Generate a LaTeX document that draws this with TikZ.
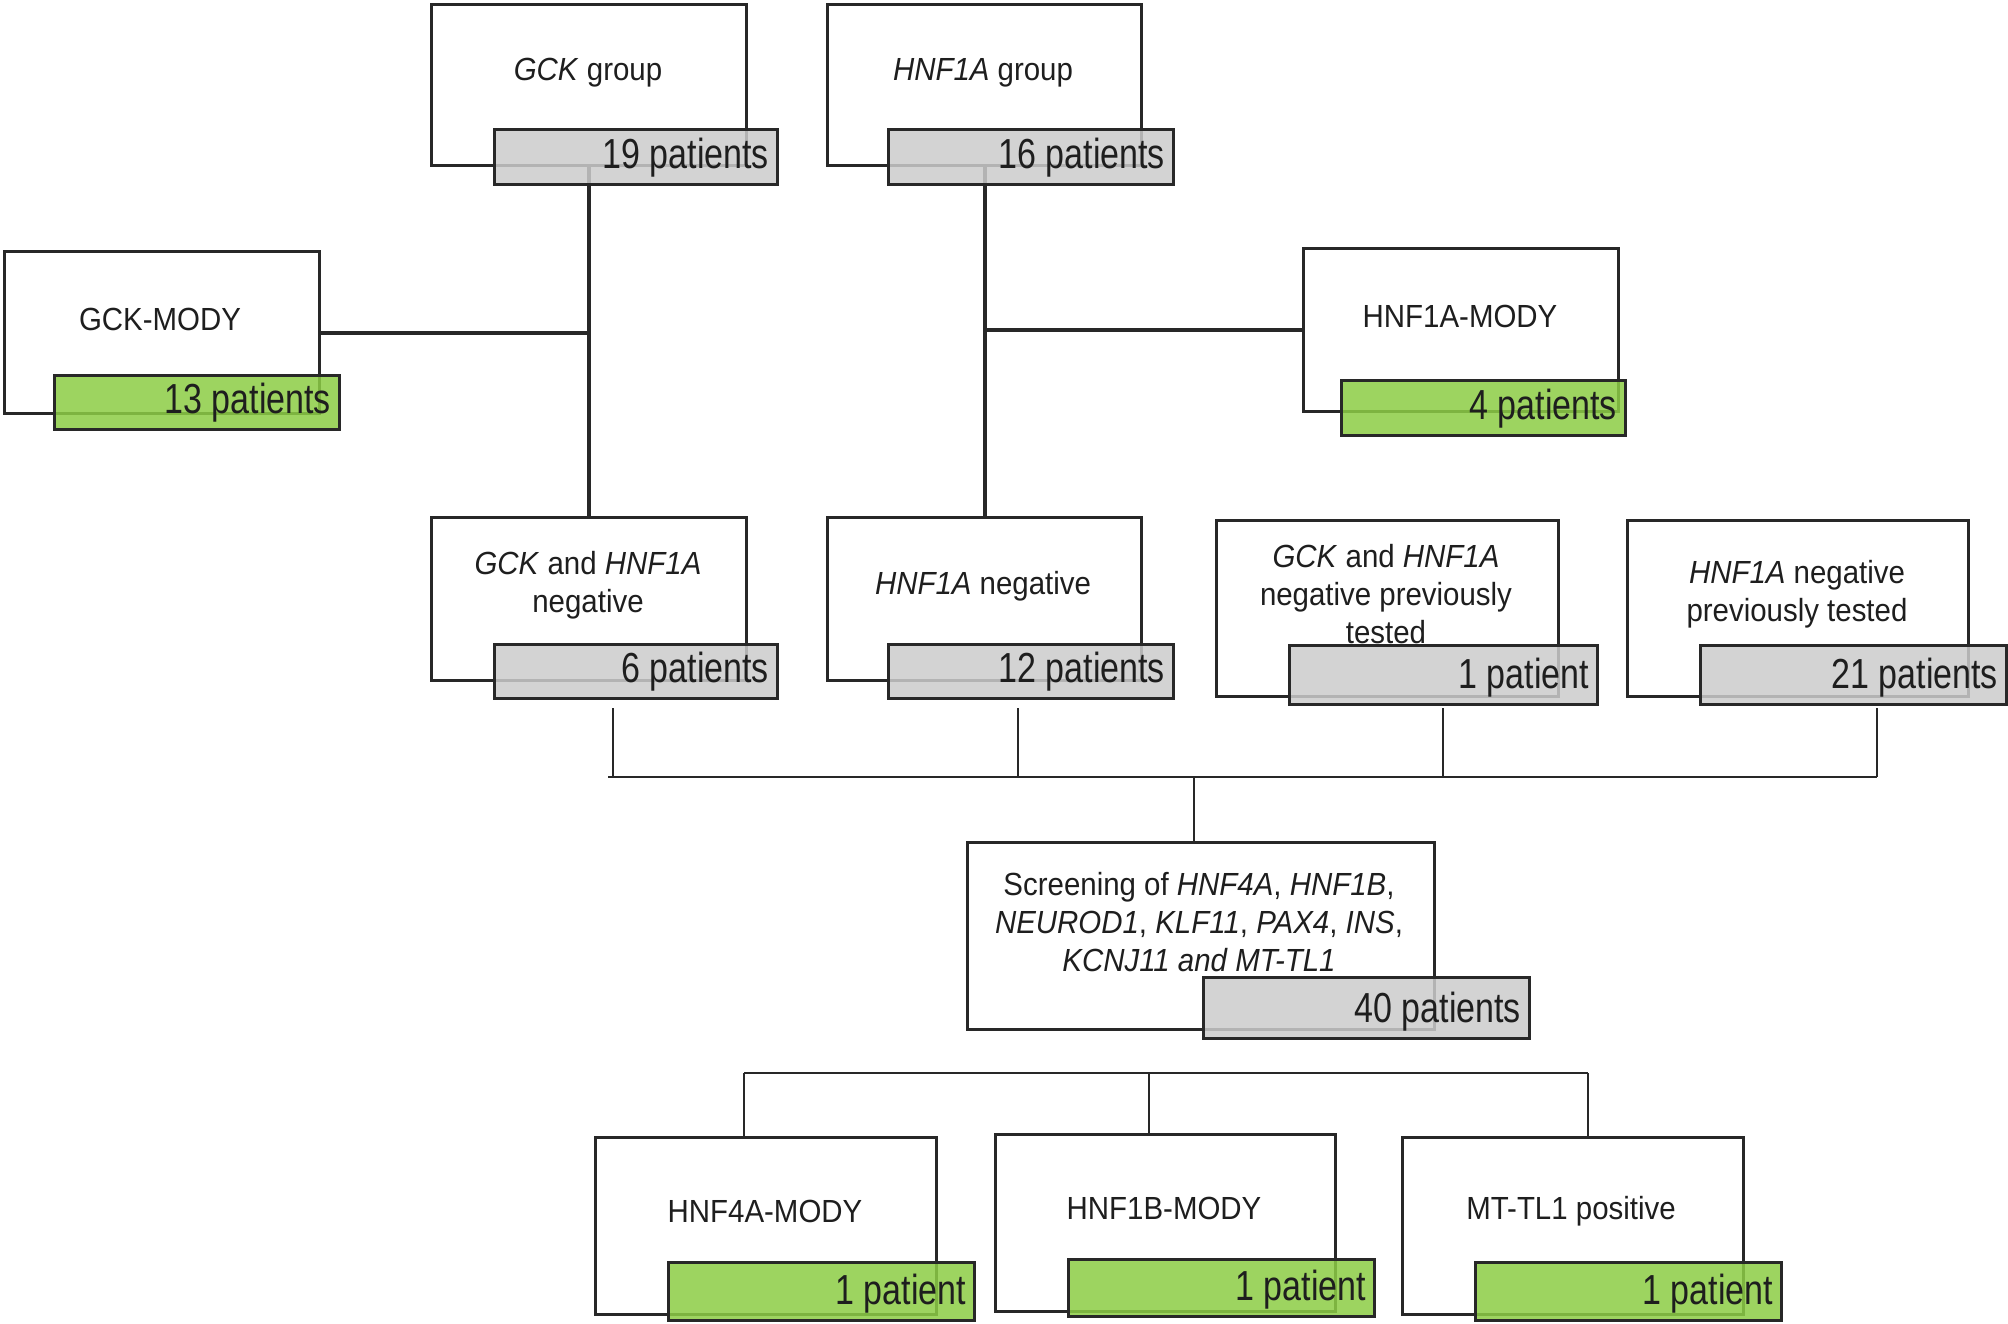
\documentclass[tikz,border=0pt]{standalone}
\usepackage{fontspec}
\newfontfamily\mainf[FakeStretch=0.92]{Liberation Sans}
\newfontfamily\tagf[FakeStretch=0.81]{Liberation Sans}
\definecolor{ln}{RGB}{40,40,40}
\definecolor{txt}{RGB}{30,30,30}
\definecolor{tgrey}{RGB}{204,204,204}
\definecolor{tgreen}{RGB}{141,205,69}
\tikzset{
  mainbox/.style={draw=ln, line width=1.7pt, fill=white, inner sep=0pt},
  greytag/.style={draw=ln, line width=1.7pt, fill=tgrey, fill opacity=0.85, draw opacity=1, inner sep=0pt},
  greentag/.style={draw=ln, line width=1.7pt, fill=tgreen, fill opacity=0.85, draw opacity=1, inner sep=0pt},
  lbl/.style={font=\mainf\fontsize{16}{19}\selectfont, text=txt, align=center, inner sep=0pt},
  num/.style={font=\tagf\fontsize{21}{25}\selectfont, text=txt, inner sep=0pt, anchor=base east},
  conn/.style={draw=ln, line width=2pt},
  thinconn/.style={draw=ln, line width=1.2pt},
}
\newcommand\BX[6]{\node[#2, anchor=north west, minimum width={(#5-#3)*0.5pt}, minimum height={(#6-#4)*0.5pt}] (#1) at (#3,#4) {};}
\newcommand\NUM[2]{\node[num] (#1n) at ([xshift=-5pt,yshift=9pt]#1.south east) {#2};}
\begin{document}
\begin{tikzpicture}[x=0.5pt,y=-0.5pt]
\useasboundingbox[fill=white] (0,0) rectangle (2008,1323);
% main boxes
\BX{gck}{mainbox}{430}{3}{745}{164}
\BX{hnfa}{mainbox}{826}{3}{1140}{164}
\BX{gckm}{mainbox}{3}{250}{318}{412}
\BX{hnfm}{mainbox}{1302}{247}{1617}{410}
\BX{neg1}{mainbox}{430}{516}{745}{679}
\BX{neg2}{mainbox}{826}{516}{1140}{679}
\BX{prev1}{mainbox}{1215}{519}{1557}{695}
\BX{prev2}{mainbox}{1626}{519}{1967}{695}
\BX{scr}{mainbox}{966}{841}{1433}{1028}
\BX{m4}{mainbox}{594}{1136}{935}{1313}
\BX{m1b}{mainbox}{994}{1133}{1334}{1310}
\BX{mt}{mainbox}{1401}{1136}{1742}{1313}
% labels
\node[lbl] (gckL) at (588,73) {\textit{GCK} group};
\node[lbl] (hnfaL) at (983,73) {\textit{HNF1A} group};
\node[lbl] (gckmL) at (160,319) {GCK-MODY};
\node[lbl] (hnfmL) at (1460,316) {HNF1A-MODY};
\node[lbl] (neg1L) at (588,585) {\textit{GCK} and \textit{HNF1A}\\negative};
\node[lbl] (neg2L) at (983,586) {\textit{HNF1A} negative};
\node[lbl] (prev1L) at (1386,594) {\textit{GCK} and \textit{HNF1A}\\negative previously\\tested};
\node[lbl] (prev2L) at (1797,594) {\textit{HNF1A} negative\\previously tested};
\node[lbl] (scrL) at (1199,922) {Screening of \textit{HNF4A}, \textit{HNF1B},\\\textit{NEUROD1}, \textit{KLF11}, \textit{PAX4}, \textit{INS},\\\textit{KCNJ11 and MT-TL1}};
\node[lbl] (m4L) at (765,1211) {HNF4A-MODY};
\node[lbl] (m1bL) at (1164,1208) {HNF1B-MODY};
\node[lbl] (mtL) at (1571,1211) {MT-TL1 positive};
% connectors
\draw[conn] (gck.south) -- (neg1.north);
\draw[conn] (gckm.east) -- (gckm.east -| gck.south);
\draw[conn] (hnfa.south) -- (neg2.north);
\draw[conn] (hnfm.west) -- (hnfm.west -| hnfa.south);
\coordinate (a1) at (613,708);
\coordinate (a2) at (1018,708);
\coordinate (a3) at (1443,708);
\coordinate (a4) at (1877,708);
\coordinate (hb) at (608,777);
\coordinate (hbR) at (1877,777);
\coordinate (hbM) at (1194,777);
\draw[thinconn] (a1) -- (a1 |- hb);
\draw[thinconn] (a2) -- (a2 |- hb);
\draw[thinconn] (a3) -- (a3 |- hb);
\draw[thinconn] (a4) -- (a4 |- hb);
\draw[thinconn] (hb) -- (hbR);
\draw[thinconn] (hbM) -- (hbM |- scr.north);
\coordinate (lb1) at (744,1073);
\coordinate (lb2) at (1588,1073);
\coordinate (lb3) at (1149,1073);
\draw[thinconn] (lb1) -- (lb2);
\draw[thinconn] (lb1) -- (lb1 |- m4.north);
\draw[thinconn] (lb3) -- (lb3 |- m1b.north);
\draw[thinconn] (lb2) -- (lb2 |- mt.north);
% tags
\BX{gckT}{greytag}{493}{128}{776}{183}
\BX{hnfaT}{greytag}{887}{128}{1172}{183}
\BX{gckmT}{greentag}{53}{374}{338}{428}
\BX{hnfmT}{greentag}{1340}{379}{1624}{434}
\BX{neg1T}{greytag}{493}{643}{776}{697}
\BX{neg2T}{greytag}{887}{643}{1172}{697}
\BX{prev1T}{greytag}{1288}{644}{1596}{703}
\BX{prev2T}{greytag}{1699}{644}{2005}{703}
\BX{scrT}{greytag}{1202}{976}{1528}{1037}
\BX{m4T}{greentag}{667}{1261}{973}{1319}
\BX{m1bT}{greentag}{1067}{1258}{1373}{1315}
\BX{mtT}{greentag}{1474}{1261}{1780}{1319}
\NUM{gckT}{19 patients}
\NUM{hnfaT}{16 patients}
\NUM{gckmT}{13 patients}
\NUM{hnfmT}{4 patients}
\NUM{neg1T}{6 patients}
\NUM{neg2T}{12 patients}
\NUM{prev1T}{1 patient}
\NUM{prev2T}{21 patients}
\NUM{scrT}{40 patients}
\NUM{m4T}{1 patient}
\NUM{m1bT}{1 patient}
\NUM{mtT}{1 patient}
\end{tikzpicture}
\end{document}
